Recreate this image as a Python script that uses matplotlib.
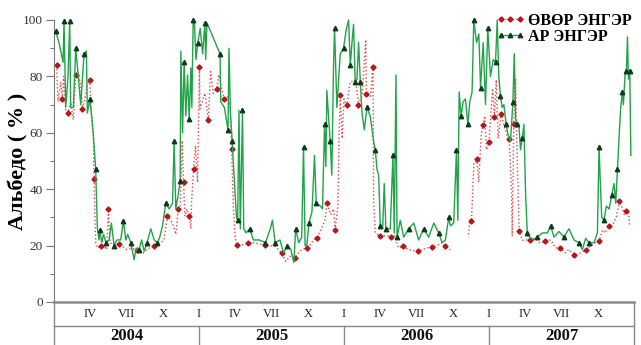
import numpy as np
import matplotlib.pyplot as plt

# time axis in months since 1 Jan 2004
south_t = [0.22, 0.33, 0.55, 0.69, 0.8, 0.97, 1.16, 1.38, 1.6, 1.8, 1.99, 2.21, 2.35, 2.54,
           2.76, 2.96, 3.09, 3.26, 3.31, 3.45, 3.59, 3.87, 4.14, 4.36, 4.5, 4.64, 5.11, 5.4,
           6.02, 6.4, 6.9, 7.4, 7.8, 8.29, 8.7, 9.1, 9.39, 9.81, 10.08, 10.28, 10.44, 10.61,
           10.72, 10.83, 10.99, 11.16, 11.33, 11.38, 11.55, 11.71, 11.88, 12.04,
           12.08, 12.49, 12.77, 12.96, 13.18, 13.46, 13.65, 13.87, 14.1, 14.37, 14.57, 14.7,
           14.84, 14.98, 15.12, 15.4, 15.67, 16.09, 16.5, 17.0, 17.47, 17.9, 18.3, 18.85,
           19.18, 19.54, 19.96, 20.23, 20.51, 20.92, 21.2, 21.48, 21.75, 22.17, 22.44, 22.58,
           22.91, 23.13, 23.27, 23.49, 23.6, 23.68, 23.85, 24.0, 24.24, 24.5, 24.96, 25.2,
           25.5, 25.8, 25.85, 26.05, 26.2, 26.4, 26.45, 26.59, 27.0, 27.3, 27.6, 27.9, 28.2,
           28.5, 28.9, 29.3, 29.7, 30.1, 30.5, 30.9, 31.3, 31.7, 32.1, 32.4, 32.7, 32.81,
           33.5, 34.3, 34.45, 34.55, 34.75, 34.9, 35.0, 35.15, 35.35, 35.5, 35.65, 35.8,
           36.0, 36.2, 36.3, 36.45, 36.6, 36.75, 37.0, 37.2, 37.5, 37.67, 37.87, 37.92,
           38.05, 38.2, 38.35, 38.5, 38.75, 39.0, 39.4, 39.8, 40.2, 40.6, 41.1, 41.5, 41.9,
           42.3, 42.6, 43.05, 43.3, 43.6, 44.0, 44.4, 44.8, 45.1, 45.4, 45.6, 45.9, 46.3,
           46.55, 46.8, 46.95, 47.2, 47.35, 47.55, 47.65]
south = [84, 71, 78, 72, 80, 68, 67, 71, 64.6, 80.5, 81, 77, 68.6, 71.6,
         77, 78.7, 66, 59, 43.6, 21, 19.2, 19.8, 19.8, 18.6, 32.9, 21, 19.8, 20.5,
         18.6, 19, 18.6, 17.4, 19, 19.8, 20.5, 22, 30.4, 28, 24, 33, 33, 57.2,
         42.4, 30.4, 33, 30.4, 26, 35, 47, 55.4, 42.4, 83.4,
         68.6, 74, 64.4, 81.7, 74, 75.7, 80.5, 75.7, 72, 72.7, 69.8, 54.3,
         34, 23.3, 20.3, 20.3, 20.3, 21, 21, 20.5, 20.3, 20, 19.8, 17.4,
         14.4, 16.2, 15.6, 17.4, 18.6, 19.2, 20.3, 22, 22.7, 26.3, 29.3, 35,
         31, 33, 25.7, 34, 60, 73.3, 58, 72, 69.7, 78, 78.7, 70,
         73.3, 93, 73.9, 73, 72.7, 83.5, 35.8, 24.5, 23.3, 23.5, 23.5, 23, 23.5,
         19.2, 19.8, 18.6, 18.3, 18, 18.6, 19.2, 19.5, 20, 21, 19.8, 18.6, 18.6,
         np.nan, 24, 29.3, 28.7, 49.5, 49.5, 50.7, 42.4, 59, 62.6, 66, 54,
         56.6, 69.7, 75.7, 65.6, 78.8, 58, 66.8, 63.2, 59, 57.9, 38.8, 23.3,
         63.2, 79.3, 48, 25.1, 21.9, 22, 22, 22.6, 21, 21.6, 22, 19.2, 19.2,
         17.4, 18.6, 16.8, 16.8, 17.4, 18.6, 19.8, 21, 21.6, 25.6, 24.5, 26.8, 28,
         30.4, 35.8, 34, 31, 32.2, 31.6, 26.8]

north_t = [0.14, 0.41, 0.75, 0.83, 0.97, 1.16, 1.3, 1.38, 1.6, 1.8, 1.99, 2.21, 2.49, 2.68,
           2.76, 2.96, 3.12, 3.26, 3.45, 3.59, 3.73, 3.8, 3.95, 4.1, 4.3, 4.56, 4.75, 4.97,
           5.2, 5.52, 5.75, 5.94, 6.1, 6.35, 6.63, 6.8, 7.04, 7.25, 7.46, 7.7, 8.01, 8.29,
           8.56, 8.75, 8.98, 9.25, 9.53, 9.81, 9.94, 10.08, 10.28, 10.44, 10.5, 10.64,
           10.77, 10.91, 11.05, 11.19, 11.33, 11.41, 11.52, 11.62, 11.75, 11.9, 12.1, 12.3,
           12.49, 12.55, 12.66, 13.74, 13.8, 14.1, 14.4, 14.48, 14.6, 14.75, 14.84, 15.1,
           15.2, 15.31, 15.42, 15.6, 15.7, 15.9, 16.2, 16.5, 17.0, 17.5, 17.9, 18.08, 18.3,
           18.7, 19.0, 19.3, 19.6, 19.85, 20.0, 20.25, 20.5, 20.65, 20.78, 20.92, 21.1,
           21.35, 21.56, 21.7, 22.05, 22.22, 22.39, 22.5, 22.58, 22.86, 22.99, 23.13, 23.22,
           23.41, 23.69, 23.96, 24.18, 24.38, 24.52, 24.66, 24.79, 24.93, 25.07, 25.21,
           25.35, 25.49, 25.68, 25.9, 26.17, 26.45, 26.59, 26.73, 26.87, 27.0, 27.2, 27.33,
           27.47, 27.64, 27.83, 28.05, 28.16, 28.3, 28.39, 28.66, 28.94, 29.35, 29.77,
           30.18, 30.6, 31.01, 31.43, 31.84, 32.12, 32.39, 32.67, 32.81, 33.08, 33.31,
           33.42, 33.53, 33.69, 33.86, 34.05, 34.25, 34.41, 34.6, 34.74, 34.97, 35.16,
           35.3, 35.52, 35.71, 35.9, 36.12, 36.35, 36.54, 36.68, 36.81, 36.95, 37.09,
           37.23, 37.42, 37.59, 37.78, 37.98, 38.09, 38.2, 38.34, 38.47, 38.61, 38.75,
           38.89, 39.03, 39.17, 39.36, 39.72, 40.0, 40.41, 40.83, 41.1, 41.38, 41.79,
           42.21, 42.62, 43.04, 43.45, 43.73, 44.0, 44.28, 44.69, 44.97, 45.11, 45.19,
           45.33, 45.52, 45.71, 45.94, 46.16, 46.35, 46.49, 46.63, 46.77, 46.9, 47.04,
           47.12, 47.26, 47.37, 47.46, 47.54, 47.65, 47.74]
north = [96, 92, 85, 99.5, 69, 80, 99.5, 69, 69, 90, 81, 70, 88, 89,
         67, 72, 66, 59, 47, 26, 22, 25.7, 21, 24, 21, 22, 28, 20,
         22, 22, 28.7, 22, 24, 21, 15, 19, 18.6, 22, 18, 21, 26, 22,
         21, 23, 27, 35, 33, 35, 57, 33, 38, 43, 89, 60,
         85, 66, 80.5, 65, 83, 69, 100, 99, 86, 92, 97, 88,
         99, 86, 99, 88, 71, 69, 61, 90, 67, 57, 49.5, 30,
         29, 68, 26, 68, 26, 24.5, 26, 22, 22, 21, 26, 29, 21,
         22, 17.4, 20, 18.6, 14, 26, 21, 23, 55, 20, 20, 28,
         32, 52, 35, 34, 33, 63, 48, 75, 57, 45, 83, 97,
         69, 88, 90, 96.5, 100, 84, 92, 98.5, 78, 79, 92,
         78, 67, 61, 69, 66, 57, 54, 47, 45, 27, 26, 42,
         26, 26, 26, 52, 24.5, 80.5, 23, 29, 23, 26, 28,
         22, 26, 23, 28, 24.5, 21, 22, 30, 27, 28, 54,
         29, 74.5, 66, 71, 72, 63, 71, 74.5, 100, 92, 95,
         76, 92, 70, 97, 80, 86, 85, 100, 80, 73, 69,
         70, 63, 59, 57, 71, 88, 65, 63, 63, 54, 58,
         63, 38, 24.5, 23, 22, 23, 24.5, 24.5, 27, 23, 25,
         23, 26, 22, 21, 18.6, 22.6, 21, 21, 24.5, 55, 45,
         30, 29, 34, 33, 38, 42, 35, 47, 59, 69, 74.5,
         70, 80.5, 82, 94, 79, 82, 52]

month_pos = [3, 6, 9, 12, 15, 18, 21, 24, 27, 30, 33, 36, 39, 42, 45]
month_lbl = ["IV", "VII", "X", "I"] * 3 + ["IV", "VII", "X"]
years = ["2004", "2005", "2006", "2007"]

serif = ["Liberation Serif", "DejaVu Serif"]
plt.rcParams["font.family"] = serif

fig = plt.figure(figsize=(6.41, 3.45), dpi=100)
ax = fig.add_axes([54 / 641, 43 / 345, 580 / 641, 282 / 345])

ax.plot(south_t, south, ls=":", lw=1.0, color="#e5484b", marker="D", ms=2.6,
        mfc="#b3181c", mec="#b3181c", markevery=3, clip_on=False,
        label="ӨВӨР ЭНГЭР", zorder=2)
ax.plot(north_t, north, ls="-", lw=1.0, color="#22a24a", marker="^", ms=3.2,
        mfc="#0c3a1c", mec="#0c3a1c", markevery=3, clip_on=False,
        label="АР ЭНГЭР", zorder=3)

ax.set_xlim(0, 48)
ax.set_ylim(0, 100)
ax.set_yticks(range(0, 101, 20))
ax.set_yticks(range(10, 100, 20), minor=True)
ax.tick_params(axis="y", which="major", length=6, width=0.8, color="#777",
               labelsize=9.5, labelcolor="#333", pad=2)
ax.tick_params(axis="y", which="minor", length=3, width=0.8, color="#777")
ax.set_xticks([])
for s in ["top", "right"]:
    ax.spines[s].set_visible(False)
ax.spines["left"].set_color("#777")
ax.spines["bottom"].set_color("#888")
ax.spines["bottom"].set_linewidth(1.8)

ax.set_ylabel("Альбедо ( % )", fontsize=16, fontweight="bold")
ax.yaxis.set_label_coords(-0.044, 0.5)

# month / year table under the axis
tr = ax.get_xaxis_transform()
row = -0.084
bot = -0.16
kw = dict(transform=tr, clip_on=False, color="#888", lw=1.0)
ax.plot([0, 48], [row, row], **kw)
ax.plot([0, 0], [0, bot], **kw)
ax.plot([48, 48], [0, bot], **kw)
for b in [12, 24, 36]:
    ax.plot([b, b], [row, bot], **kw)
for p, l in zip(month_pos, month_lbl):
    ax.text(p, -0.042, l, transform=tr, ha="center", va="center", fontsize=9,
            color="#222")
for i, y in enumerate(years):
    ax.text(6 + 12 * i, -0.121, y, transform=tr, ha="center", va="center",
            fontsize=12, fontweight="bold", color="#111")

leg = ax.legend(loc="upper right", bbox_to_anchor=(1.0, 0.99),
                bbox_transform=fig.transFigure, frameon=False, numpoints=3,
                handlelength=1.8, handletextpad=0.2, labelspacing=0.0,
                borderaxespad=0.2, prop=dict(family=serif, weight="bold", size=11.5))

fig.savefig("out.png", dpi=100)
